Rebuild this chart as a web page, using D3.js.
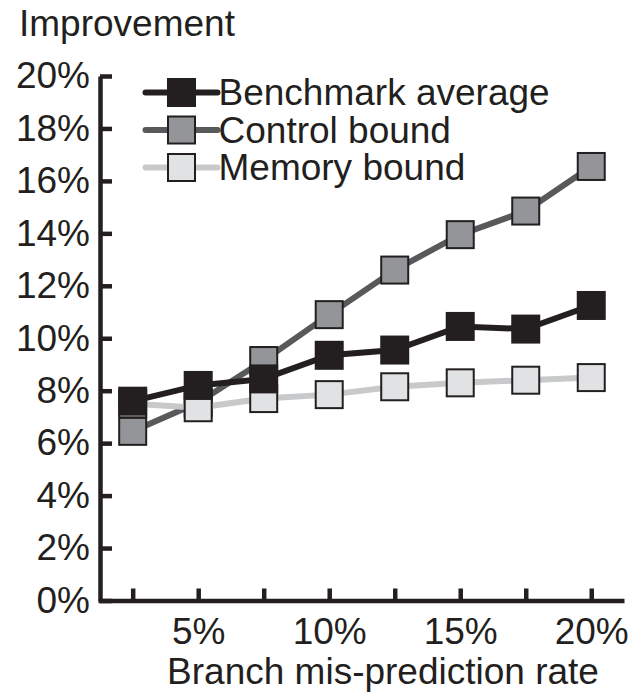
<!DOCTYPE html>
<html>
<head>
<meta charset="utf-8">
<script src="https://cdn.jsdelivr.net/npm/d3@7"></script>
<style>
  body { margin: 0; background: #fff; }
  text { font-family: "Liberation Sans", Arial, sans-serif; fill: #231f20; }
</style>
</head>
<body>
<div id="chart"></div>
<script>
// branch mis-prediction rate (%)
const rates = [2.5, 5, 7.5, 10, 12.5, 15, 17.5, 20];
const benchmarkAvg = [7.6, 8.2, 8.45, 9.35, 9.55, 10.45, 10.35, 11.25];
const controlBound = [6.45, 7.55, 9.15, 10.9, 12.6, 13.95, 14.85, 16.55];
const memoryBound = [7.5, 7.35, 7.7, 7.85, 8.15, 8.3, 8.4, 8.5];
const yTicks = [0, 2, 4, 6, 8, 10, 12, 14, 16, 18, 20];
const xLabels = [5, 10, 15, 20];

const w = 630, h = 694;
const ink = '#231f20';
const fontSize = 37;

const x = d3.scaleLinear()
    .domain([1.176, 21.25])
    .range([98, 624]);

const y = d3.scaleLinear()
    .domain([0, 20])
    .range([600.5, 76]);

const svg = d3.select('#chart')
    .append('svg')
    .attr('width', w)
    .attr('height', h);

// y axis, ticks pointing into the plot
const yAxis = d3.axisLeft(y)
    .tickValues(yTicks)
    .tickFormat(d => d + '%')
    .tickSizeInner(-12)
    .tickSizeOuter(0)
    .tickPadding(10);

const gy = svg.append('g')
    .attr('transform', 'translate(100,0)')
    .call(yAxis);

// x axis, ticks every 2.5% but labels only every 5%
const xAxis = d3.axisBottom(x)
    .tickValues(rates)
    .tickFormat(d => xLabels.includes(d) ? d + '%' : '')
    .tickSizeInner(-12)
    .tickSizeOuter(0)
    .tickPadding(17);

const gx = svg.append('g')
    .attr('transform', `translate(0,${y(0)})`)
    .call(xAxis);

[gx, gy].forEach(g => {
    g.select('.domain').attr('stroke', ink).attr('stroke-width', 4.5);
    g.selectAll('.tick line').attr('stroke', ink).attr('stroke-width', 4.5);
    g.selectAll('.tick text')
        .attr('fill', ink)
        .attr('font-size', fontSize)
        .attr('font-family', '"Liberation Sans", Arial, sans-serif');
});

svg.append('text')
    .attr('x', 19)
    .attr('y', 36)
    .attr('font-size', fontSize)
    .text('Improvement');

svg.append('text')
    .attr('x', 383)
    .attr('y', 684)
    .attr('text-anchor', 'middle')
    .attr('font-size', fontSize)
    .text('Branch mis-prediction rate');

// drawn bottom to top: control, memory, benchmark
const series = [
    {name: 'Control bound', values: controlBound, line: '#58595b', fill: '#939598'},
    {name: 'Memory bound', values: memoryBound, line: '#c8c9cb', fill: '#e1e2e3'},
    {name: 'Benchmark average', values: benchmarkAvg, line: ink, fill: ink}
];

const size = 27;
const line = d3.line()
    .x((d, i) => x(rates[i]))
    .y(d => y(d));

series.forEach(s => {
    svg.append('path')
        .datum(s.values)
        .attr('d', line)
        .attr('fill', 'none')
        .attr('stroke', s.line)
        .attr('stroke-width', 6);

    svg.append('g')
        .selectAll('rect')
        .data(s.values)
        .join('rect')
            .attr('x', (d, i) => x(rates[i]) - size / 2)
            .attr('y', d => y(d) - size / 2)
            .attr('width', size)
            .attr('height', size)
            .attr('fill', s.fill)
            .attr('stroke', ink)
            .attr('stroke-width', 2);
});

// legend order: benchmark, control, memory
const legendOrder = [series[2], series[0], series[1]];
const legend = svg.append('g')
    .selectAll('g')
    .data(legendOrder)
    .join('g')
        .attr('transform', (d, i) => `translate(181.5,${92.5 + i * 37.5})`);

legend.append('line')
    .attr('x1', -36)
    .attr('x2', 36)
    .attr('stroke', d => d.line)
    .attr('stroke-width', 6)
    .attr('stroke-linecap', 'round');

legend.append('rect')
    .attr('x', -size / 2)
    .attr('y', -size / 2)
    .attr('width', size)
    .attr('height', size)
    .attr('fill', d => d.fill)
    .attr('stroke', ink)
    .attr('stroke-width', 2);

legend.append('text')
    .attr('x', 37)
    .attr('y', 12.5)
    .attr('font-size', fontSize)
    .text(d => d.name);
</script>
</body>
</html>
